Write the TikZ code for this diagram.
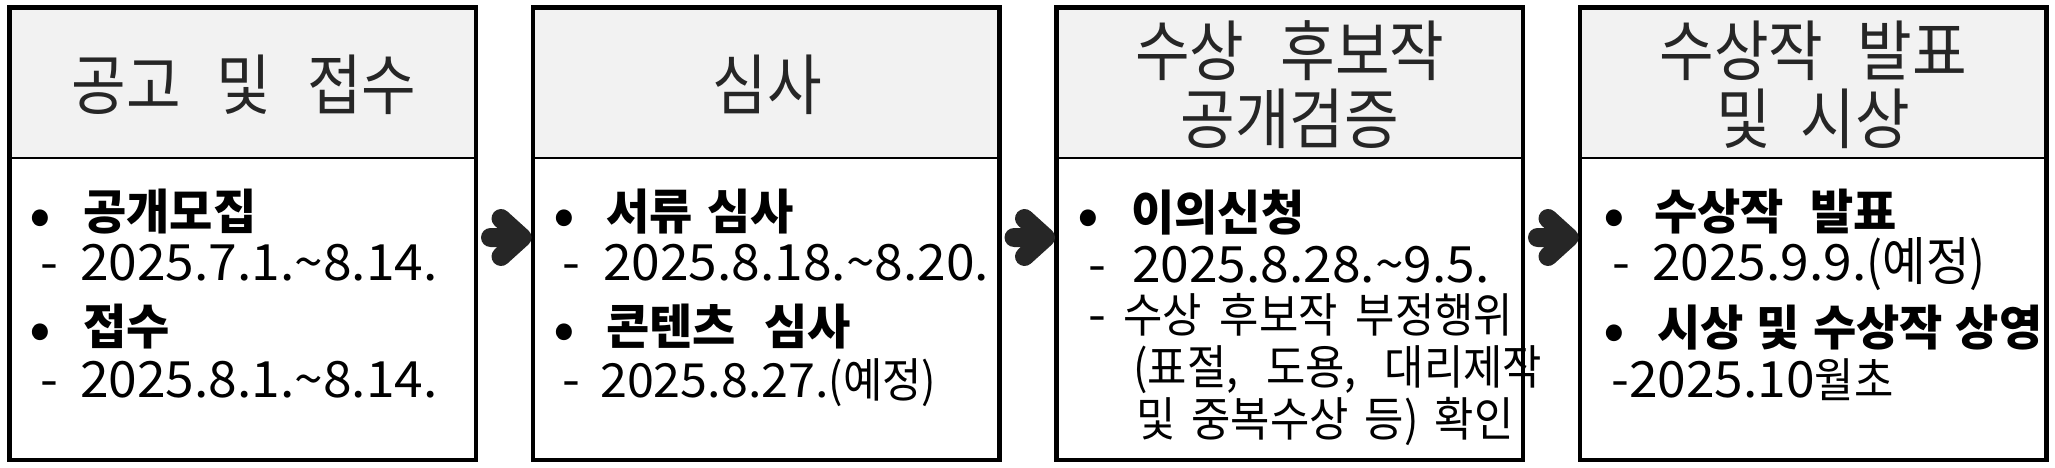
\documentclass[tikz,border=0pt]{standalone}
\usepackage{fontspec}
\setmainfont{Noto Sans CJK KR}
\newfontfamily\hgfont{Noto Sans CJK KR}[FakeStretch=0.91,BoldFeatures={FakeStretch=0.98}]
\newfontfamily\hdfont{Noto Sans CJK KR}[FakeStretch=0.9]
\newfontfamily\dgfont{Noto Sans CJK KR}[FakeStretch=1.03]
\newcommand\dg[2][50]{{\dgfont\fontsize{#1pt}{56pt}\selectfont #2}}
\newcommand\gp[1]{\hspace{#1pt}}
\newcommand\tld{\textasciitilde}
\definecolor{hdrgray}{HTML}{F2F2F2}
\definecolor{inkc}{HTML}{262626}
\usetikzlibrary{calc}
\begin{document}
\begin{tikzpicture}[x=1pt,y=-1pt,
  hdrbg/.style={fill=hdrgray, draw=none, minimum width=466.5pt, minimum height=150.5pt, inner sep=0pt, outer sep=0pt},
  frame/.style={draw=black, line width=4.8pt, minimum width=466.5pt, minimum height=452.5pt, inner sep=0pt, outer sep=0pt},
  htext/.style={anchor=base, inner sep=0pt, text=inkc, font=\hdfont\fontsize{66pt}{70pt}\selectfont},
  btxt/.style={anchor=base west, inner sep=0pt, font=\hgfont\bfseries\fontsize{48pt}{56pt}\selectfont},
  rtxt/.style={anchor=base west, inner sep=0pt, font=\hgfont\fontsize{47pt}{56pt}\selectfont},
  bul/.style={anchor=base west, inner sep=0pt, font=\dgfont\fontsize{62pt}{66pt}\selectfont},
  fatarrow/.style={draw=inkc, line width=19pt, line cap=round, line join=round}]
\useasboundingbox (0,0) rectangle (2055,468);
% header backgrounds, dividers and frames
\foreach \i/\cx in {1/242.75,2/766.25,3/1289.75,4/1813.25}{
  \node[hdrbg] (h\i) at (\cx,82.75) {};
  \draw[line width=1.3pt] (h\i.south west) -- (h\i.south east);
  \node[frame] (b\i) at (\cx,233.75) {};
}
% header texts
\node[htext] (t1) at (244,110) {공고\gp{36}및\gp{36}접수};
\node[htext] (t2) at (767,110) {심사};
\node[htext] (t3a) at (1289.75,76) {수상\gp{36}후보작};
\node[htext] (t3b) at (1289.75,143) {공개검증};
\node[htext] (t4a) at (1813.25,76) {수상작\gp{34}발표};
\node[htext] (t4b) at (1813.25,143) {및\gp{30}시상};
% box 1
\node[bul] (p1a) at (29,236) {•};
\node[btxt] (q1a) at (83,229) {공개모집};
\node[rtxt] (d1a) at (40,280) {\dg{-}};
\node[rtxt] (r1a) at (80,280) {\dg{2025.7.1.\tld 8.14.}};
\node[bul] (p1b) at (29,350) {•};
\node[btxt] (q1b) at (83,344) {접수};
\node[rtxt] (d1b) at (40,397) {\dg{-}};
\node[rtxt] (r1b) at (80,397) {\dg{2025.8.1.\tld 8.14.}};
% box 2
\node[bul] (p2a) at (553.5,236) {•};
\node[btxt] (q2a) at (606,229) {서류\gp{15}심사};
\node[rtxt] (d2a) at (562,280) {\dg{-}};
\node[rtxt] (r2a) at (603,280) {\dg{2025.8.18.\tld 8.20.}};
\node[bul] (p2b) at (553.5,350) {•};
\node[btxt] (q2b) at (606,344) {콘텐츠\gp{28}심사};
\node[rtxt] (d2b) at (562,397) {\dg{-}};
\node[rtxt] (r2b) at (600,397) {\dg[47]{2025.8.27.}(예정)};
% box 3
\node[bul] (p3a) at (1077,236) {•};
\node[btxt] (q3a) at (1131,230) {이의신청};
\node[rtxt] (d3a) at (1088,282) {\dg{-}};
\node[rtxt] (r3a) at (1132,282) {\dg{2025.8.28.\tld 9.5.}};
\node[rtxt] (d3b) at (1088,332) {\dg{-}};
\node[rtxt] (r3b) at (1123,332) {수상\gp{18}후보작\gp{18}부정행위};
\node[rtxt] (r3c) at (1133,384) {(표절,\gp{28}도용,\gp{28}대리제작};
\node[rtxt] (r3d) at (1136,436) {및\gp{16}중복수상\gp{16}등)\gp{16}확인};
% box 4
\node[bul] (p4a) at (1603.5,236) {•};
\node[btxt] (q4a) at (1654,229) {수상작\gp{26}발표};
\node[rtxt] (d4a) at (1612,280) {\dg{-}};
\node[rtxt] (r4a) at (1652,280) {\dg{2025.9.9.}{\fontsize{52pt}{56pt}\selectfont(예정)}};
\node[bul] (p4b) at (1603.5,351) {•};
\node[btxt] (q4b) at (1657,345) {시상\gp{13}및\gp{13}수상작\gp{13}상영};
\node[rtxt] (r4b) at (1611,397) {\dg{-2025.10}월초};
% arrows between the boxes
\foreach \a/\b in {1/2,2/3,3/4}{
  \coordinate (s\a) at ([xshift=14.5pt,yshift=-3.75pt]b\a.east);
  \coordinate (v\a) at ([xshift=-11pt,yshift=-3.75pt]b\b.west);
  \coordinate (u\a) at ([xshift=25pt,yshift=15.25pt]b\a.east);
  \coordinate (l\a) at ([xshift=25pt,yshift=-22.75pt]b\a.east);
  \draw[fatarrow] (s\a) -- (v\a) (u\a) -- (v\a) -- (l\a);
}
\end{tikzpicture}
\end{document}
